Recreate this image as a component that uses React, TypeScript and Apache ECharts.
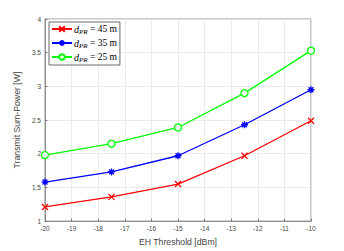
import React, { useEffect, useRef } from "react";
import * as echarts from "echarts";

const xValues = [-20, -17.5, -15, -12.5, -10];
const seriesNames = ["d_PR = 45 m", "d_PR = 35 m", "d_PR = 25 m"];
const dist = ["45", "35", "25"];
const red45 = [1.21, 1.36, 1.55, 1.97, 2.49];
const blue35 = [1.58, 1.73, 1.97, 2.43, 2.95];
const green25 = [1.98, 2.15, 2.39, 2.9, 3.53];

const X_PATH = "path://M0,0L10,10M10,0L0,10";
const STAR_PATH = "path://M5,0L5,10M0,5L10,5M1.5,1.5L8.5,8.5M8.5,1.5L1.5,8.5";

export default function App() {
  const ref = useRef<HTMLDivElement>(null);
  useEffect(() => {
    if (!ref.current) return;
    const chart = echarts.init(ref.current, undefined, { renderer: "svg" });
    const mk = (i: number, data: number[], color: string, symbol: string, size: number, fill: string) => ({
      name: seriesNames[i],
      type: "line",
      data: xValues.map((x, k) => [x, data[k]]),
      symbol,
      symbolSize: size,
      showAllSymbol: true,
      lineStyle: { color, width: 1.3 },
      itemStyle: { color: fill, borderColor: color, borderWidth: 1.3 },
      z: 5 + i,
    });
    chart.setOption({
      animation: false,
      backgroundColor: "#ffffff",
      grid: { left: 45, right: 33, top: 19, bottom: 28, show: true, borderColor: "#7a7a7a", borderWidth: 0.8 },
      legend: {
        orient: "vertical",
        left: 49,
        top: 22,
        itemWidth: 20,
        itemHeight: 7,
        itemGap: 3,
        padding: [2, 3, 2, 2],
        backgroundColor: "#ffffff",
        borderColor: "#444",
        borderWidth: 0.8,
        borderRadius: 0,
        data: seriesNames,
        formatter: (name: string) => {
          const i = seriesNames.indexOf(name);
          return "{i|d}{s|PR}{n| = " + dist[i] + " m}";
        },
        textStyle: {
          color: "#000",
          fontFamily: "Liberation Serif",
          fontSize: 9.5,
          padding: [0, 0, 0, -3],
          rich: {
            i: { fontFamily: "Liberation Serif", fontStyle: "italic", fontSize: 10, color: "#000" },
            s: { fontFamily: "Liberation Serif", fontStyle: "italic", fontSize: 7, color: "#000", padding: [5, 0, 0, 0] },
            n: { fontFamily: "Liberation Serif", fontSize: 9.5, color: "#000" },
          },
        },
      },
      xAxis: {
        type: "value",
        min: -20,
        max: -10,
        interval: 1,
        name: "EH Threshold [dBm]",
        nameLocation: "middle",
        nameGap: 12,
        nameTextStyle: { color: "#444", fontFamily: "Liberation Sans", fontSize: 8.7 },
        axisLine: { show: true, onZero: false, lineStyle: { color: "#7a7a7a", width: 0.8 } },
        axisTick: { show: true, inside: true, length: 2.5, lineStyle: { color: "#7a7a7a" } },
        axisLabel: { color: "#444", fontFamily: "Liberation Sans", fontSize: 6.5, margin: 4 },
        splitLine: { show: true, lineStyle: { color: "#e6e6e6", width: 0.8 } },
      },
      yAxis: {
        type: "value",
        min: 1,
        max: 4,
        interval: 0.5,
        name: "Transmit Sum-Power [W]",
        nameLocation: "middle",
        nameGap: 16,
        nameTextStyle: { color: "#444", fontFamily: "Liberation Sans", fontSize: 8.7 },
        axisLine: { show: true, lineStyle: { color: "#7a7a7a", width: 0.8 } },
        axisTick: { show: true, inside: true, length: 2.5, lineStyle: { color: "#7a7a7a" } },
        axisLabel: { color: "#444", fontFamily: "Liberation Sans", fontSize: 6.5, margin: 4 },
        splitLine: { show: true, lineStyle: { color: "#e6e6e6", width: 0.8 } },
      },
      series: [
        mk(0, red45, "#ff0000", X_PATH, 6, "#ff0000"),
        mk(1, blue35, "#0000ff", STAR_PATH, 7, "#0000ff"),
        mk(2, green25, "#00ff00", "circle", 7, "#ffffff"),
      ],
    });
    return () => chart.dispose();
  }, []);
  return (
    <div
      ref={ref}
      style={{ position: "fixed", left: 0, top: 0, width: 344, height: 251, background: "#fff" }}
    />
  );
}
